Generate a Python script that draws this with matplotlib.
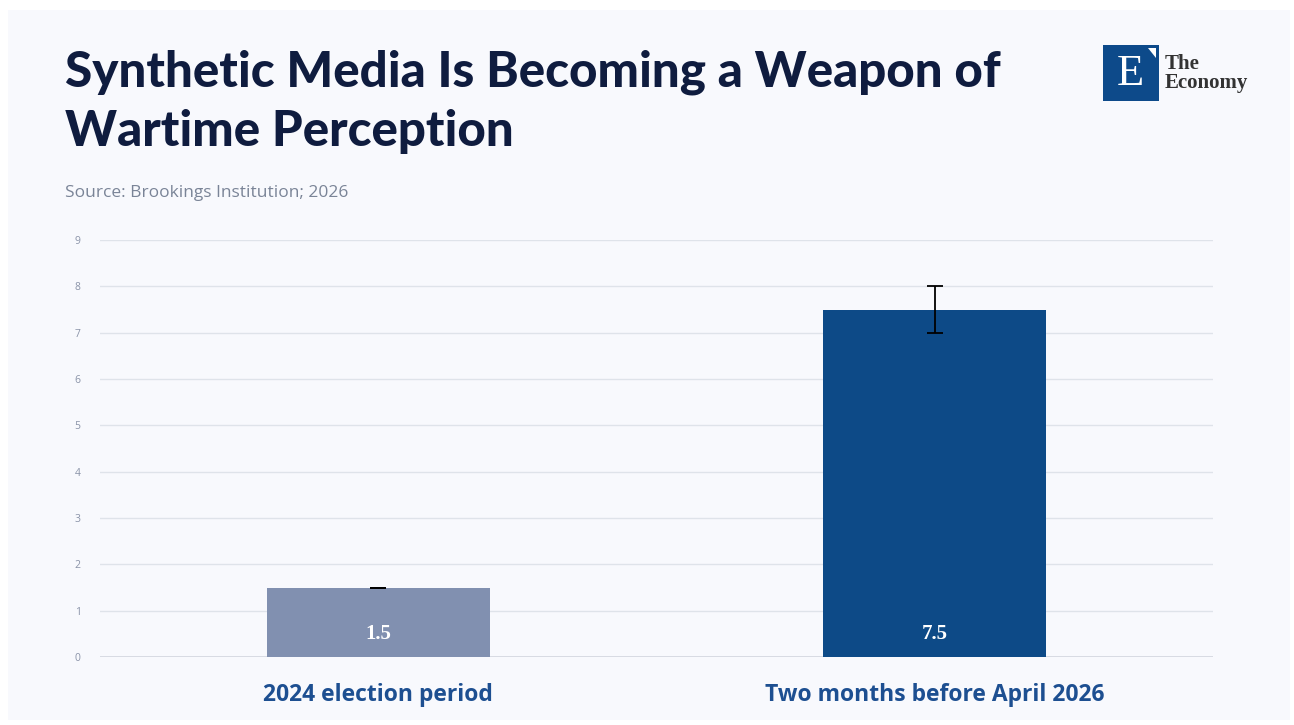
import matplotlib.pyplot as plt
from matplotlib.patches import Rectangle, Polygon

# data
categories = ['2024 election period', 'Two months before April 2026']
values = [1.5, 7.5]
errors = [0.0, 0.5]
bar_colors = ['#8190b0', '#0d4a87']
yticks = list(range(0, 10))

fig = plt.figure(figsize=(12.94, 7.25), dpi=100)
fig.patch.set_facecolor('white')

# light panel background
fig.patches.append(Rectangle((8 / 1294, 5 / 725), 1282 / 1294, 710 / 725,
                             transform=fig.transFigure, facecolor='#f8f9fd',
                             edgecolor='none', zorder=-10))

ax = fig.add_axes([100 / 1294, (725 - 657) / 725, 1113 / 1294, (657 - 240) / 725])
ax.set_facecolor('none')

x = list(range(len(categories)))
ax.bar(x, values, width=0.4, color=bar_colors, zorder=2)
ax.errorbar(x, values, yerr=errors, fmt='none', ecolor='black', elinewidth=1.3,
            capsize=6, capthick=1.3, zorder=3)

for xi, v in zip(x, values):
    ax.text(xi, 0.5, f'{v}', ha='center', va='center', color='white',
            fontsize=15, fontweight='bold', family='Liberation Serif', zorder=4)

ax.set_xlim(-0.5, 1.5)
ax.set_ylim(0, 9)
ax.set_yticks(yticks)
ax.set_yticklabels([str(t) for t in yticks], fontsize=7.5, color='#8a93a8',
                   family='Open Sans')
ax.tick_params(axis='y', length=0, pad=14)
ax.set_xticks(x)
ax.set_xticklabels(categories, fontsize=16.5, fontweight='bold', color='#1d4f91',
                   family='Open Sans')
ax.tick_params(axis='x', length=0, pad=19)
ax.grid(axis='y', color='#dfe3ea', linewidth=1, zorder=0)
ax.axhline(0, color='#d3d7df', linewidth=1.2, zorder=1)
ax.set_axisbelow(True)
for s in ax.spines.values():
    s.set_visible(False)

# title + source
fig.text(65 / 1294, 1 - 72 / 725, 'Synthetic Media Is Becoming a Weapon of',
         fontsize=35.5, fontweight='black', color='#0f1c3f', family='Lato',
         va='center', ha='left')
fig.text(65 / 1294, 1 - 132 / 725, 'Wartime Perception',
         fontsize=35.5, fontweight='black', color='#0f1c3f', family='Lato',
         va='center', ha='left')
fig.text(65 / 1294, 1 - 193 / 725, 'Source: Brookings Institution; 2026',
         fontsize=12.5, color='#7a8497', family='Open Sans', va='center', ha='left')

# logo
fig.patches.append(Rectangle((1103 / 1294, 1 - 101 / 725), 56 / 1294, 56 / 725,
                             transform=fig.transFigure, facecolor='#0d4a8a',
                             edgecolor='none'))
fig.patches.append(Polygon([(1148 / 1294, 1 - 48 / 725), (1156 / 1294, 1 - 48 / 725),
                            (1156 / 1294, 1 - 58 / 725)],
                           transform=fig.transFigure, facecolor='white', edgecolor='none'))
fig.text(1130 / 1294, 1 - 74 / 725, 'E', fontsize=32, color='white',
         family='Liberation Serif', ha='center', va='center')
fig.text(1165 / 1294, 1 - 64 / 725, 'The', fontsize=15, color='#333333',
         family='Liberation Serif', fontweight='bold', ha='left', va='center')
fig.text(1165 / 1294, 1 - 83 / 725, 'Economy', fontsize=15, color='#333333',
         family='Liberation Serif', fontweight='bold', ha='left', va='center')

fig.savefig('out.png', dpi=100, facecolor=fig.get_facecolor())
